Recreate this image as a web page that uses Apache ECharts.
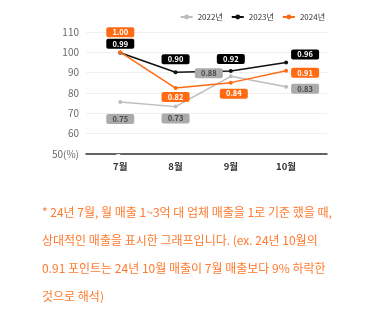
<!DOCTYPE html>
<html><head><meta charset="utf-8">
<script src="https://cdn.jsdelivr.net/npm/echarts@6/dist/echarts.min.js"></script>
<style>html,body{margin:0;padding:0;background:#fff}#c{width:386px;height:322px}</style>
</head><body><div id="c"></div>
<script>
const categories = ['7월', '8월', '9월', '10월'];
const seriesNames = ['2022년', '2023년', '2024년'];
const values2022 = [75.6, 73.3, 88.2, 83.1];
const values2023 = [99.8, 90.2, 90.8, 95.0];
const values2024 = [100.1, 82.4, 85.1, 90.9];
const labels2022 = ['0.75', '0.73', '0.88', '0.83'];
const labels2023 = ['0.99', '0.90', '0.92', '0.96'];
const labels2024 = ['1.00', '0.82', '0.84', '0.91'];
const yTicks = [50, 60, 70, 80, 90, 100, 110];
const note = '* 24년 7월, 월 매출 1~3억 대 업체 매출을 1로 기준 했을 때,\n상대적인 매출을 표시한 그래프입니다. (ex. 24년 10월의\n0.91 포인트는 24년 10월 매출이 7월 매출보다 9% 하락한\n것으로 해석)';

// styling (positions of the value boxes relative to their points)
const offsets = [
  [[0, 17], [0, 12], [-22, -3], [19, 2]],
  [[0, -9], [0, -13], [0, -12], [19, -8]],
  [[0, -20], [0, 9], [3, 11], [19, 2]]
];
const lineColors = ['#bdbdbd', '#111111', '#ff6a13'];
const boxColors = ['#ababab', '#000000', '#ff6a13'];
const boxText = ['#4a4a4a', '#ffffff', '#ffffff'];
const FONT = '"Noto Sans CJK KR", "Noto Sans", sans-serif';

const allValues = [values2022, values2023, values2024];
const allLabels = [labels2022, labels2023, labels2024];

const chart = echarts.init(document.getElementById('c'));
chart.setOption({
  animation: false,
  textStyle: { fontFamily: FONT },
  grid: { left: 86, right: 59, top: 32, bottom: 168 },
  legend: {
    right: 56, top: 8, itemWidth: 12, itemHeight: 6, itemGap: 8,
    textStyle: { fontSize: 8, color: '#333', fontFamily: FONT },
    data: seriesNames
  },
  xAxis: {
    type: 'value', min: -0.62, max: 3.74,
    splitLine: { show: false },
    axisTick: { show: false },
    axisLine: { show: true, lineStyle: { color: '#333', width: 1.5 } },
    axisLabel: {
      customValues: categories.map((c, i) => i),
      formatter: v => categories[Math.round(v)],
      fontSize: 9.5, fontWeight: 'bold', color: '#333', margin: 8, fontFamily: FONT
    }
  },
  yAxis: {
    type: 'value', min: 50, max: 110, interval: 10,
    axisLine: { show: false },
    axisTick: { show: true, length: 4, lineStyle: { color: '#eeeeee' } },
    splitLine: { lineStyle: { color: '#f0f0f0' } },
    axisLabel: {
      formatter: v => v === yTicks[0] ? v + '(%)' : String(v),
      fontSize: 10, color: '#6a6a6a', margin: 7, fontFamily: FONT
    }
  },
  series: seriesNames.map((name, s) => ({
    name, type: 'line', symbol: 'circle', symbolSize: 4,
    color: lineColors[s],
    lineStyle: { width: 1.5, color: lineColors[s] },
    itemStyle: { color: lineColors[s] },
    data: allValues[s].map((v, i) => ({
      value: [i, v],
      label: {
        show: true, position: 'inside', offset: offsets[s][i],
        formatter: () => allLabels[s][i],
        backgroundColor: boxColors[s], color: boxText[s],
        fontSize: 7.5, fontWeight: 'bold', fontFamily: FONT,
        width: 18, align: 'center', lineHeight: 8, padding: [1, 5], borderRadius: 2
      }
    }))
  })),
  graphic: [{
    type: 'text', left: 42, top: 199,
    style: { text: note, fill: '#ff7a2e', fontSize: 12, lineHeight: 27.7, fontFamily: FONT }
  }]
});
</script></body></html>
